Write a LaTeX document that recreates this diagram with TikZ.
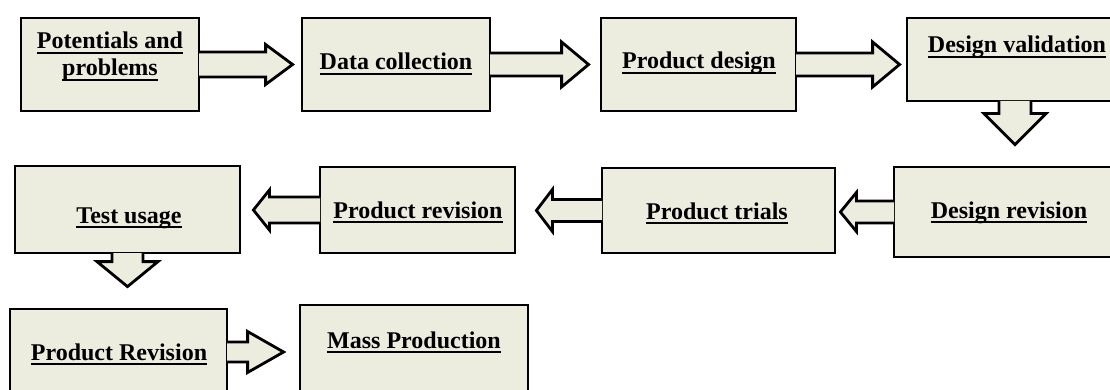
\documentclass[tikz,border=0pt]{standalone}
\usepackage{fontspec}
\setmainfont{Liberation Serif}
\usetikzlibrary{calc}
\newlength{\du}
\setlength{\du}{1pt}
\newcommand{\ulin}[1]{\setbox0=\hbox{#1}\rlap{\rule[-4.6pt]{\wd0}{2pt}}\box0}

\begin{document}
\begin{tikzpicture}[
  boxnode/.style={rectangle, draw=black, fill=boxfill, line width=2.8\du, inner sep=0pt},
  lbl/.style={font=\bfseries\fontsize{24}{27}\selectfont, anchor=base, inner sep=0pt, align=center},
  blockarr/.style={draw=black, fill=boxfill, line width=2.8\du, line join=miter}]
\pgftransformxscale{1.000000}
\pgftransformyscale{-1.000000}
\definecolor{boxfill}{rgb}{0.925490, 0.929412, 0.874510}
\path[use as bounding box, clip] (0\du,0\du) rectangle (1110\du,390\du);
% first row
\node[boxnode, minimum width=178.000000\du, minimum height=93.000000\du] (pp) at (110.000000\du,64.500000\du) {};
\node[boxnode, minimum width=188.000000\du, minimum height=93.000000\du] (dc) at (396.000000\du,64.500000\du) {};
\node[boxnode, minimum width=195.000000\du, minimum height=93.000000\du] (pd) at (698.500000\du,64.500000\du) {};
\node[boxnode, minimum width=216.000000\du, minimum height=83.000000\du] (dv) at (1015.000000\du,59.500000\du) {};
% second row
\node[boxnode, minimum width=230.000000\du, minimum height=90.000000\du] (dr) at (1009.000000\du,212.000000\du) {};
\node[boxnode, minimum width=233.000000\du, minimum height=85.000000\du] (pt) at (718.500000\du,210.500000\du) {};
\node[boxnode, minimum width=195.000000\du, minimum height=86.000000\du] (pr) at (417.500000\du,210.000000\du) {};
\node[boxnode, minimum width=225.000000\du, minimum height=87.000000\du] (tu) at (127.500000\du,209.500000\du) {};
% third row
\node[boxnode, minimum width=217.000000\du, minimum height=86.000000\du] (prev) at (118.500000\du,352.000000\du) {};
\node[boxnode, minimum width=228.000000\du, minimum height=90.000000\du] (mp) at (414.000000\du,350.000000\du) {};
% arrows, right
\filldraw[blockarr] ($(pp.east)+(-1.4\du,-12.5\du)$) -- ($(pp.east -| dc.west)+(-35\du,-12.5\du)$) -- ++(0\du,-7.5\du) -- ($(pp.east -| dc.west)+(-8\du,0\du)$) -- ++(-27\du,20\du) -- ++(0\du,-7.5\du) -- ($(pp.east)+(-1.4\du,12.5\du)$);
\filldraw[blockarr] ($(dc.east)+(-1.4\du,-11.5\du)$) -- ($(dc.east -| pd.west)+(-38\du,-11.5\du)$) -- ++(0\du,-11\du) -- ($(dc.east -| pd.west)+(-11\du,0\du)$) -- ++(-27\du,22.5\du) -- ++(0\du,-11\du) -- ($(dc.east)+(-1.4\du,11.5\du)$);
\filldraw[blockarr] ($(pd.east)+(-1.4\du,-11.5\du)$) -- ($(pd.east -| dv.west)+(-33\du,-11.5\du)$) -- ++(0\du,-11\du) -- ($(pd.east -| dv.west)+(-6\du,0\du)$) -- ++(-27\du,22.5\du) -- ++(0\du,-11\du) -- ($(pd.east)+(-1.4\du,11.5\du)$);
\filldraw[blockarr] ($(prev.east)+(-1.4\du,-10\du)$) -- ($(prev.east -| mp.west)+(-51\du,-10\du)$) -- ++(0\du,-10.5\du) -- ($(prev.east -| mp.west)+(-15\du,0\du)$) -- ++(-36\du,20.5\du) -- ++(0\du,-10.5\du) -- ($(prev.east)+(-1.4\du,10\du)$);
% arrows, down
\filldraw[blockarr] ($(dv.south)+(-16\du,-1.4\du)$) -- ($(dv.south |- dr.north)+(-16\du,-52\du)$) -- ++(-15\du,0\du) -- ($(dv.south |- dr.north)+(0\du,-21\du)$) -- ++(31\du,-31\du) -- ++(-15\du,0\du) -- ($(dv.south)+(16\du,-1.4\du)$);
\filldraw[blockarr] ($(tu.south)+(-15.5\du,-1.4\du)$) -- ($(tu.south |- prev.north)+(-15.5\du,-46\du)$) -- ++(-15\du,0\du) -- ($(tu.south |- prev.north)+(0\du,-21\du)$) -- ++(30.5\du,-25\du) -- ++(-15\du,0\du) -- ($(tu.south)+(15.5\du,-1.4\du)$);
% arrows, left
\filldraw[blockarr] ($(dr.west)+(1.4\du,-11\du)$) -- ($(dr.west -| pt.east)+(20\du,-11\du)$) -- ++(0\du,-8.5\du) -- ($(dr.west -| pt.east)+(4\du,0\du)$) -- ++(16\du,19.5\du) -- ++(0\du,-8.5\du) -- ($(dr.west)+(1.4\du,11\du)$);
\filldraw[blockarr] ($(pt.west)+(1.4\du,-11\du)$) -- ($(pt.west -| pr.east)+(36\du,-11\du)$) -- ++(0\du,-10\du) -- ($(pt.west -| pr.east)+(20\du,0\du)$) -- ++(16\du,21\du) -- ++(0\du,-10\du) -- ($(pt.west)+(1.4\du,11\du)$);
\filldraw[blockarr] ($(pr.west)+(1.4\du,-13\du)$) -- ($(pr.west -| tu.east)+(28\du,-13\du)$) -- ++(0\du,-7\du) -- ($(pr.west -| tu.east)+(12\du,0\du)$) -- ++(16\du,20\du) -- ++(0\du,-7\du) -- ($(pr.west)+(1.4\du,13\du)$);
% labels
\node[lbl] (ppt) at (110.000000\du,76.000000\du) {\ulin{Potentials and}\\\ulin{problems}};
\node[lbl] (dct) at (396.000000\du,70.000000\du) {\ulin{Data collection}};
\node[lbl] (pdt) at (699.000000\du,69.000000\du) {\ulin{Product design}};
\node[lbl] (dvt) at (1017.000000\du,53.000000\du) {\ulin{Design validation}};
\node[lbl] (drt) at (1009.000000\du,218.000000\du) {\ulin{Design revision}};
\node[lbl] (ptt) at (717.000000\du,219.000000\du) {\ulin{Product trials}};
\node[lbl] (prt) at (418.000000\du,218.000000\du) {\ulin{Product revision}};
\node[lbl] (tut) at (129.000000\du,223.000000\du) {\ulin{Test usage}};
\node[lbl] (prevt) at (119.000000\du,360.000000\du) {\ulin{Product Revision}};
\node[lbl] (mpt) at (414.000000\du,348.000000\du) {\ulin{Mass Production}};
\end{tikzpicture}
\end{document}
